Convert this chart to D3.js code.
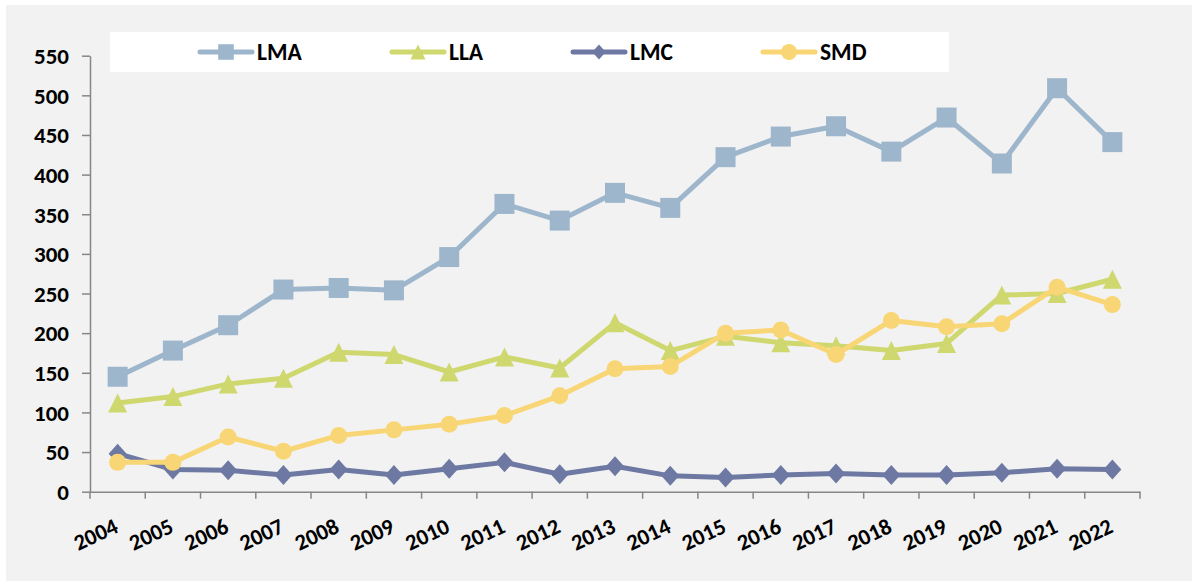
<!DOCTYPE html>
<html>
<head>
<meta charset="utf-8">
<script src="https://cdn.jsdelivr.net/npm/d3@7/dist/d3.min.js"></script>
<style>
  html, body { margin: 0; padding: 0; background: #ffffff; }
  svg { display: block; }
  text { font-family: Carlito, Lato, "Open Sans", sans-serif; font-weight: bold; fill: #000; }
</style>
</head>
<body>
<svg id="chart" width="1192" height="581"></svg>
<script>
const years = ["2004","2005","2006","2007","2008","2009","2010","2011","2012","2013","2014","2015","2016","2017","2018","2019","2020","2021","2022"];
const LMA = [145,178,210,255,257,254,296,363,342,377,358,422,448,461,429,472,414,509,441];
const LLA = [112,120,136,143,176,173,151,170,156,213,178,196,188,184,178,187,248,250,268];
const LMC = [48,28,27,21,28,21,29,37,22,32,20,18,21,23,21,21,24,29,28];
const SMD = [37,37,69,51,71,78,85,96,121,155,158,200,204,173,216,208,212,258,236];
const seriesNames = ["LMA","LLA","LMC","SMD"];
const yTicks = [0,50,100,150,200,250,300,350,400,450,500,550];

const colors = { LMA: "#9db6cc", LLA: "#cfd76f", LMC: "#6e79a3", SMD: "#f9d675" };
const shapes = {
  LMA: s => `M${-s},${-s}H${s}V${s}H${-s}Z`,
  LLA: s => `M0,${-s}L${s},${s}L${-s},${s}Z`,
  LMC: s => `M0,${-s}L${s*0.9},0L0,${s}L${-s*0.9},0Z`,
  SMD: s => `M${-s},0A${s},${s} 0 1,0 ${s},0A${s},${s} 0 1,0 ${-s},0Z`
};
const chartSize = { LMA: 10, LLA: 9.5, LMC: 10, SMD: 8.5 };
const legendSize = { LMA: 7.8, LLA: 7.5, LMC: 7.5, SMD: 8 };
const data = { LMA, LLA, LMC, SMD };

const svg = d3.select("#chart");
svg.append("rect").attr("x", 6).attr("y", 5).attr("width", 1186).attr("height", 576).attr("fill", "#f2f2f2");

const x = d3.scaleBand().domain(years).range([90, 1140]).paddingInner(0).paddingOuter(0);
const y = d3.scaleLinear().domain([0, 550]).range([491.7, 55.7]);

// legend
const lg = svg.append("g");
lg.append("rect").attr("x", 110).attr("y", 32).attr("width", 839).attr("height", 40).attr("fill", "#ffffff");
const legendX = { LMA: 198, LLA: 390, LMC: 571, SMD: 761 };
seriesNames.forEach(n => {
  const g = lg.append("g").attr("transform", `translate(${legendX[n]},52)`);
  g.append("line").attr("x1", 2).attr("x2", 54).attr("y1", 0).attr("y2", 0)
    .attr("stroke", colors[n]).attr("stroke-width", 5).attr("stroke-linecap", "round");
  g.append("path").attr("d", shapes[n](legendSize[n])).attr("transform", "translate(28,0)").attr("fill", colors[n]);
  g.append("text").attr("x", 59).attr("y", 0).attr("dy", "0.34em").attr("font-size", 23.5).text(n);
});

// y axis
const yAxis = d3.axisLeft(y).tickValues(yTicks).tickSize(8).tickPadding(13).tickSizeOuter(0);
const ya = svg.append("g").attr("transform", "translate(90,0)").call(yAxis);
ya.select(".domain").attr("stroke", "#868686").attr("stroke-width", 1.5);
ya.selectAll(".tick line").attr("stroke", "#868686").attr("stroke-width", 1.5);
ya.selectAll(".tick text").attr("font-size", 23).attr("font-family", null).attr("fill", "#000").attr("dy", "0.34em");

// x axis
const xAxis = d3.axisBottom(x).tickSize(0).tickFormat(d => d);
const xa = svg.append("g").attr("transform", `translate(0,${y(0)})`).call(xAxis);
xa.select(".domain").attr("stroke", "#868686").attr("stroke-width", 1.5);
xa.selectAll(".tick text").attr("font-size", 22.5).attr("font-family", null).attr("fill", "#000")
  .attr("text-anchor", "end").attr("dy", null).attr("y", null)
  .attr("transform", "translate(2,40) rotate(-25)");
// tick marks at band boundaries
const bounds = years.map(d => x(d)).concat([x(years[years.length-1]) + x.bandwidth()]);
xa.selectAll(".bnd").data(bounds).enter().append("line").attr("class","bnd")
  .attr("x1", d => d).attr("x2", d => d).attr("y1", 0).attr("y2", 7)
  .attr("stroke", "#868686").attr("stroke-width", 1.5);

// series
const cx = d => x(d) + x.bandwidth() / 2;
const line = d3.line().x((v, i) => cx(years[i])).y(v => y(v));
seriesNames.forEach(n => {
  const g = svg.append("g");
  g.append("path").datum(data[n]).attr("d", line).attr("fill", "none")
    .attr("stroke", colors[n]).attr("stroke-width", 5).attr("stroke-linejoin", "round").attr("stroke-linecap", "round");
  g.selectAll("path.m").data(data[n]).enter().append("path").attr("class", "m")
    .attr("d", shapes[n](chartSize[n]))
    .attr("transform", (v, i) => `translate(${cx(years[i])},${y(v)})`)
    .attr("fill", colors[n]);
});
</script>
</body>
</html>
